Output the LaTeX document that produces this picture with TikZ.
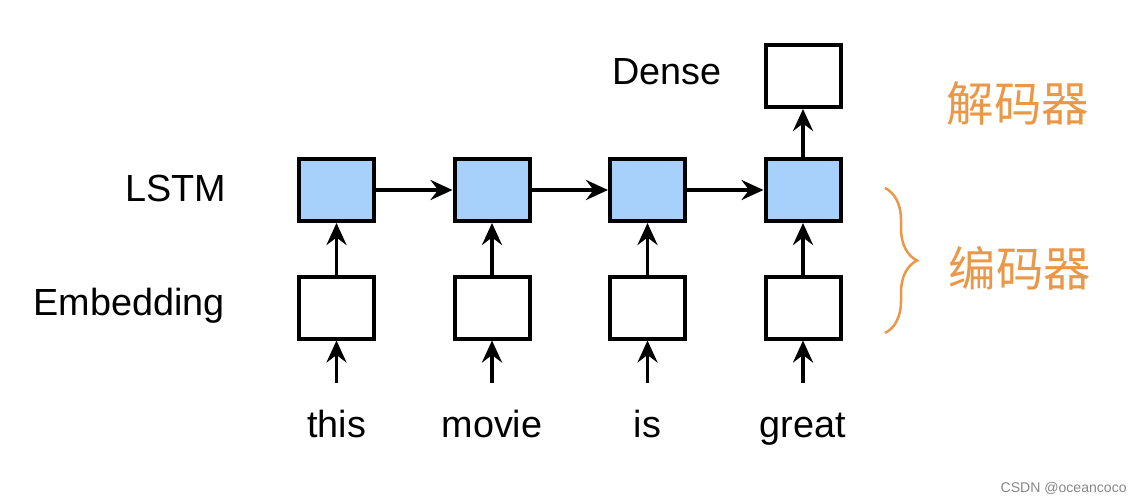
\documentclass[tikz,border=0pt]{standalone}
\usepackage{fontspec}
\setmainfont{Liberation Sans}
\newfontfamily\cjk{Noto Sans CJK SC}
\usetikzlibrary{arrows.meta,decorations.pathreplacing}
\definecolor{azulclaro}{RGB}{167,208,250}
\definecolor{laranja}{RGB}{234,152,72}
\definecolor{cinza}{RGB}{135,135,135}
\tikzset{
  box/.style = {rectangle, draw, line width = 0.08cm,
                minimum width = 1.5cm, minimum height = 1.24cm, inner sep = 0pt},
  lstm/.style = {box, fill = azulclaro},
  seta/.style = {line width = 0.075cm,
                 -{Stealth[length = 0.44cm, width = 0.4cm, inset = 0.15cm]}},
  rotulo/.style = {font = \fontsize{21.5}{26}\selectfont, inner sep = 0pt},
}

\begin{document}
\begin{tikzpicture}
\useasboundingbox (0,0) rectangle (22.84,10.04);

% camada lstm
\node [lstm] at (6.73,6.24) (lstm1) {};
\node [lstm] at (9.84,6.24) (lstm2) {};
\node [lstm] at (12.95,6.24) (lstm3) {};
\node [lstm] at (16.06,6.24) (lstm4) {};

% camada embedding
\node [box] at (6.73,3.89) (emb1) {};
\node [box] at (9.84,3.89) (emb2) {};
\node [box] at (12.95,3.89) (emb3) {};
\node [box] at (16.06,3.89) (emb4) {};

% saida
\node [box] at (16.06,8.52) (dense) {};

% rotulos
\node [rotulo, anchor = base east] at (4.53,6.0) (lbllstm) {LSTM};
\node [rotulo, anchor = base east] at (4.50,3.73) (lblemb) {Embedding};
\node [rotulo, anchor = base west] at (12.24,8.34) (lbldense) {Dense};

% entradas
\node [rotulo, anchor = base] at (6.73,1.30) (w1) {this};
\node [rotulo, anchor = base] at (9.84,1.30) (w2) {movie};
\node [rotulo, anchor = base] at (12.95,1.30) (w3) {is};
\node [rotulo, anchor = base] at (16.06,1.30) (w4) {great};
\coordinate (in1) at (6.73,2.38);
\coordinate (in2) at (9.84,2.38);
\coordinate (in3) at (12.95,2.38);
\coordinate (in4) at (16.06,2.38);

% conexoes
\draw [seta] (in1) -- (emb1.south);
\draw [seta] (in2) -- (emb2.south);
\draw [seta] (in3) -- (emb3.south);
\draw [seta] (in4) -- (emb4.south);
\draw [seta] (emb1) -- (lstm1);
\draw [seta] (emb2) -- (lstm2);
\draw [seta] (emb3) -- (lstm3);
\draw [seta] (emb4) -- (lstm4);
\draw [seta] (lstm1) -- (lstm2);
\draw [seta] (lstm2) -- (lstm3);
\draw [seta] (lstm3) -- (lstm4);
\draw [seta] (lstm4) -- (dense);

% codificador e decodificador
\node [font = \cjk\fontsize{27}{32}\selectfont, text = laranja] at (20.36,7.96) (dec) {解码器};
\node [font = \cjk\fontsize{27}{32}\selectfont, text = laranja] at (20.40,4.67) (enc) {编码器};
\coordinate (chavetop) at (17.70,6.28);
\coordinate (chavebot) at (17.70,3.38);
\draw [laranja, line width = 0.05cm, decorate,
       decoration = {brace, amplitude = 0.64cm}] (chavetop) -- (chavebot);

% marca
\node [font = \fontsize{8}{10}\selectfont, text = cinza, anchor = base east,
       inner sep = 0pt] at (22.54,0.2) (marca) {CSDN @oceancoco};
\end{tikzpicture}
\end{document}
